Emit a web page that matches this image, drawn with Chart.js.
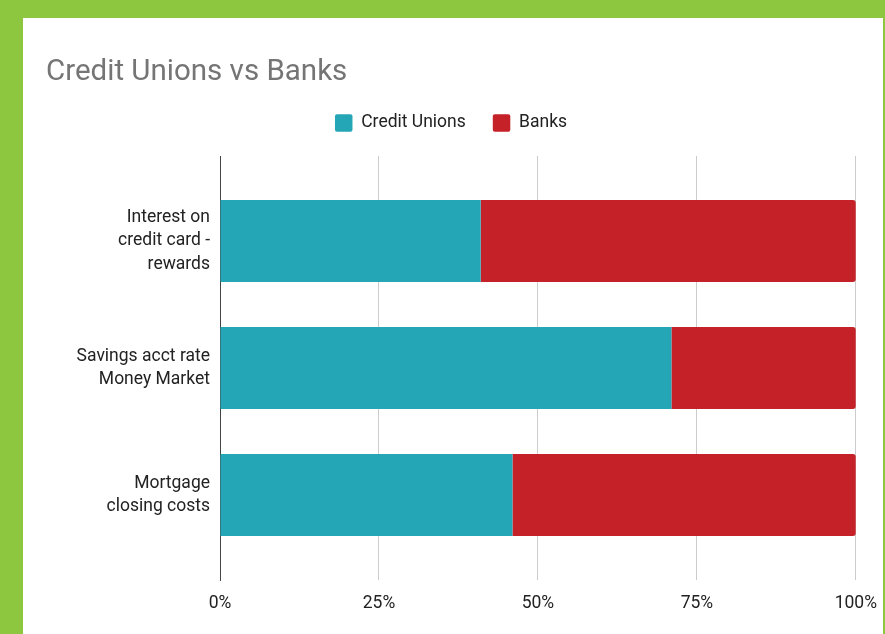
<!DOCTYPE html>
<html>
<head>
<meta charset="utf-8">
<script src="https://cdn.jsdelivr.net/npm/chart.js@4.4.1/dist/chart.umd.min.js"></script>
<style>
  html, body { margin: 0; padding: 0; }
  body { width: 885px; height: 634px; background: #8dc63f; overflow: hidden; position: relative; }
  .panel { position: absolute; left: 23px; top: 18px; width: 860px; height: 616px; background: #fff; }
  canvas { display: block; }
</style>
</head>
<body>
<div class="panel"><canvas id="chart" width="860" height="616"></canvas></div>
<script>
const categories = [
  ['Interest on', 'credit card -', 'rewards'],
  ['Savings acct rate', 'Money Market'],
  ['Mortgage', 'closing costs'],
];
const creditUnions = [41, 71, 46];
const banks = [59, 29, 54];
const xTicks = [0, 25, 50, 75, 100];

const FONT = 'Roboto';

const ctx = document.getElementById('chart').getContext('2d');
new Chart(ctx, {
  type: 'bar',
  data: {
    datasets: [
      {
        label: 'Credit Unions',
        data: creditUnions.map((value, index) => ({ x: value, y: index })),
        backgroundColor: '#25a6b7',
        borderWidth: 0,
        borderRadius: 0,
        barPercentage: 0.646,
        categoryPercentage: 1,
      },
      {
        label: 'Banks',
        data: banks.map((value, index) => ({ x: value, y: index })),
        backgroundColor: '#c52128',
        borderWidth: 0,
        borderRadius: 3,
        barPercentage: 0.646,
        categoryPercentage: 1,
      },
    ],
  },
  options: {
    indexAxis: 'y',
    responsive: false,
    animation: false,
    layout: { padding: { left: 23, right: 27, top: 0, bottom: 7 } },
    plugins: {
      title: {
        display: true,
        text: 'Credit Unions vs Banks',
        align: 'start',
        color: '#757575',
        font: { family: FONT, size: 29.5, weight: 'normal', lineHeight: '28.5px' },
        padding: { top: 40.75, bottom: 0 },
      },
      legend: {
        display: true,
        position: 'top',
        labels: {
          color: '#222',
          font: { family: FONT, size: 17.5 },
          boxWidth: 17.5,
          boxHeight: 17.5,
          padding: 27,
          useBorderRadius: true,
          borderRadius: 2,
        },
      },
      tooltip: { enabled: false },
    },
    scales: {
      x: {
        type: 'linear',
        stacked: true,
        min: xTicks[0],
        max: xTicks[xTicks.length - 1],
        afterBuildTicks: (scale) => {
          scale.ticks = xTicks.map((value) => ({ value }));
        },
        grid: { color: '#cccccc', drawTicks: false },
        border: { display: false },
        ticks: {
          color: '#222',
          padding: 6,
          font: { family: FONT, size: 17.5, lineHeight: '35px' },
          callback: (value) => `${value}%`,
        },
      },
      // empty top axis, only keeps the gap between the legend and the plot
      xTop: {
        type: 'linear',
        axis: 'x',
        position: 'top',
        grid: { display: false, drawTicks: false },
        border: { display: false },
        ticks: { display: false },
        afterFit: (scale) => {
          scale.height = 14.25;
        },
      },
      y: {
        type: 'linear',
        stacked: true,
        reverse: true,
        offset: false,
        min: -0.67,
        max: 2.67,
        grid: { display: false, drawTicks: false },
        border: { display: true, color: '#444', width: 1 },
        afterFit: (scale) => {
          scale.width = 174;
        },
        ticks: {
          stepSize: 1,
          includeBounds: false,
          autoSkip: false,
          color: '#222',
          padding: 10,
          font: { family: FONT, size: 17.5, lineHeight: 1.33 },
          callback: (value) => (Number.isInteger(value) && categories[value] ? categories[value] : ''),
        },
      },
    },
  },
});
</script>
</body>
</html>
